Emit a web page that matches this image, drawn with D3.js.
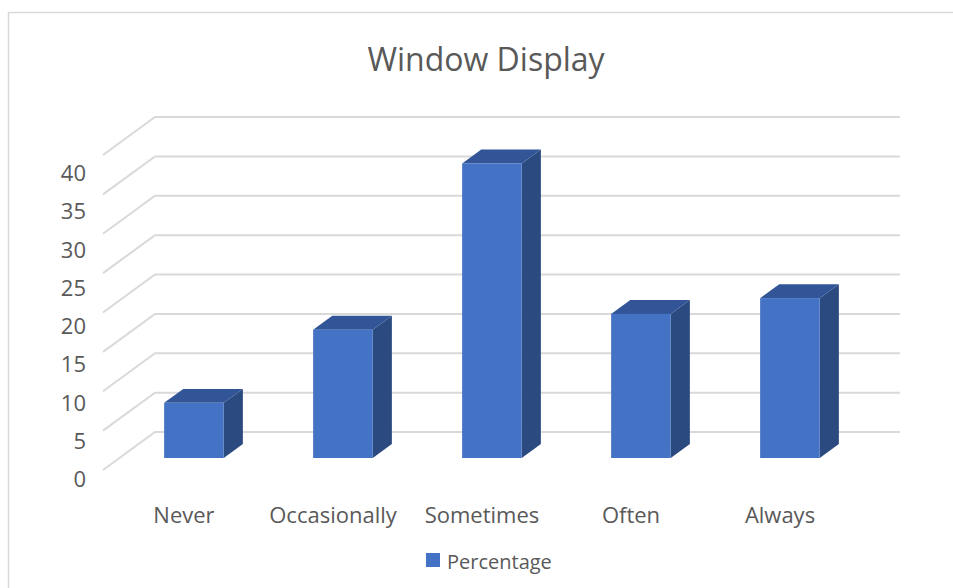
<!DOCTYPE html>
<html>
<head>
<meta charset="utf-8">
<script src="https://cdn.jsdelivr.net/npm/d3@7"></script>
<style>
  html, body { margin: 0; padding: 0; background: #fff; }
  svg { display: block; }
  text { font-family: "Open Sans", "Noto Sans", sans-serif; fill: #595959; }
</style>
</head>
<body>
<script>
// ---- data ----
const title = "Window Display";
const seriesName = "Percentage";
const categories = ["Never", "Occasionally", "Sometimes", "Often", "Always"];
const values = [7, 16.3, 37.4, 18.3, 20.3];
const yTicks = [0, 5, 10, 15, 20, 25, 30, 35, 40];

// ---- layout ----
const W = 953, H = 588;
const svg = d3.select("body").append("svg").attr("width", W).attr("height", H);

// chart frame
svg.append("path")
  .attr("d", "M8.5,588 L8.5,12.5 L953,12.5")
  .attr("fill", "none").attr("stroke", "#d9d9d9").attr("stroke-width", 1.5);

// back wall geometry
const backLeft = 155, backRight = 900, backBase = 432;
const depthX = -52, depthY = 38; // vector from back wall to front edge

const x = d3.scaleBand().domain(categories).range([backLeft, backRight])
  .paddingInner(0.6).paddingOuter(0.3);
const y = d3.scaleLinear().domain([0, 40]).range([0, 315]); // height above base
const yLabel = d3.scaleLinear().domain([0, 40]).range([478, 172]);

// gridlines (side wall diagonal + back wall horizontal)
svg.append("g").selectAll("polyline").data(yTicks).join("polyline")
  .attr("points", d => {
    const yb = backBase - y(d);
    return [[backLeft + depthX, yb + depthY], [backLeft, yb], [backRight, yb]].map(p => p.join(",")).join(" ");
  })
  .attr("fill", "none").attr("stroke", "#d9d9d9").attr("stroke-width", 2);

// y-axis labels
svg.append("g").selectAll("text").data(yTicks).join("text")
  .attr("x", 86).attr("y", d => yLabel(d))
  .attr("text-anchor", "end").attr("dominant-baseline", "central")
  .style("font-size", "22px")
  .text(d => d);

// bars
const fBack = 0.316, fFront = 0.684;
const bars = svg.append("g").selectAll("g").data(categories.map((c, i) => ({ c, v: values[i] }))).join("g");

function facePts(d) {
  const x0 = x(d.c) + depthX * fFront;
  const x1 = x0 + x.bandwidth();
  const yBot = backBase + depthY * fFront;
  const yTop = yBot - y(d.v);
  const dx = depthX * (fBack - fFront) , dy = depthY * (fBack - fFront);
  return { x0, x1, yBot, yTop, dx, dy };
}
// side face
bars.append("polygon")
  .attr("points", d => {
    const p = facePts(d);
    return [[p.x1, p.yTop], [p.x1 + p.dx, p.yTop + p.dy], [p.x1 + p.dx, p.yBot + p.dy], [p.x1, p.yBot]].map(q => q.join(",")).join(" ");
  })
  .attr("fill", "#2b4a7f");
// top face
bars.append("polygon")
  .attr("points", d => {
    const p = facePts(d);
    return [[p.x0, p.yTop], [p.x0 + p.dx, p.yTop + p.dy], [p.x1 + p.dx, p.yTop + p.dy], [p.x1, p.yTop]].map(q => q.join(",")).join(" ");
  })
  .attr("fill", "#315597");
// front face
bars.append("rect")
  .attr("x", d => facePts(d).x0)
  .attr("y", d => facePts(d).yTop)
  .attr("width", x.bandwidth())
  .attr("height", d => y(d.v))
  .attr("fill", "#4472c4");

// category labels
const fLabel = 0.875;
svg.append("g").selectAll("text").data(categories).join("text")
  .attr("x", d => x(d) + x.bandwidth() / 2 + depthX * fLabel)
  .attr("y", 523)
  .attr("text-anchor", "middle")
  .style("font-size", "22px")
  .text(d => d);

// title
svg.append("text")
  .attr("x", 486).attr("y", 71)
  .attr("text-anchor", "middle")
  .style("font-size", "32px")
  .text(title);

// legend
svg.append("rect").attr("x", 426).attr("y", 553).attr("width", 14).attr("height", 14).attr("fill", "#4472c4");
svg.append("text").attr("x", 447).attr("y", 569).style("font-size", "20px").text(seriesName);
</script>
</body>
</html>
